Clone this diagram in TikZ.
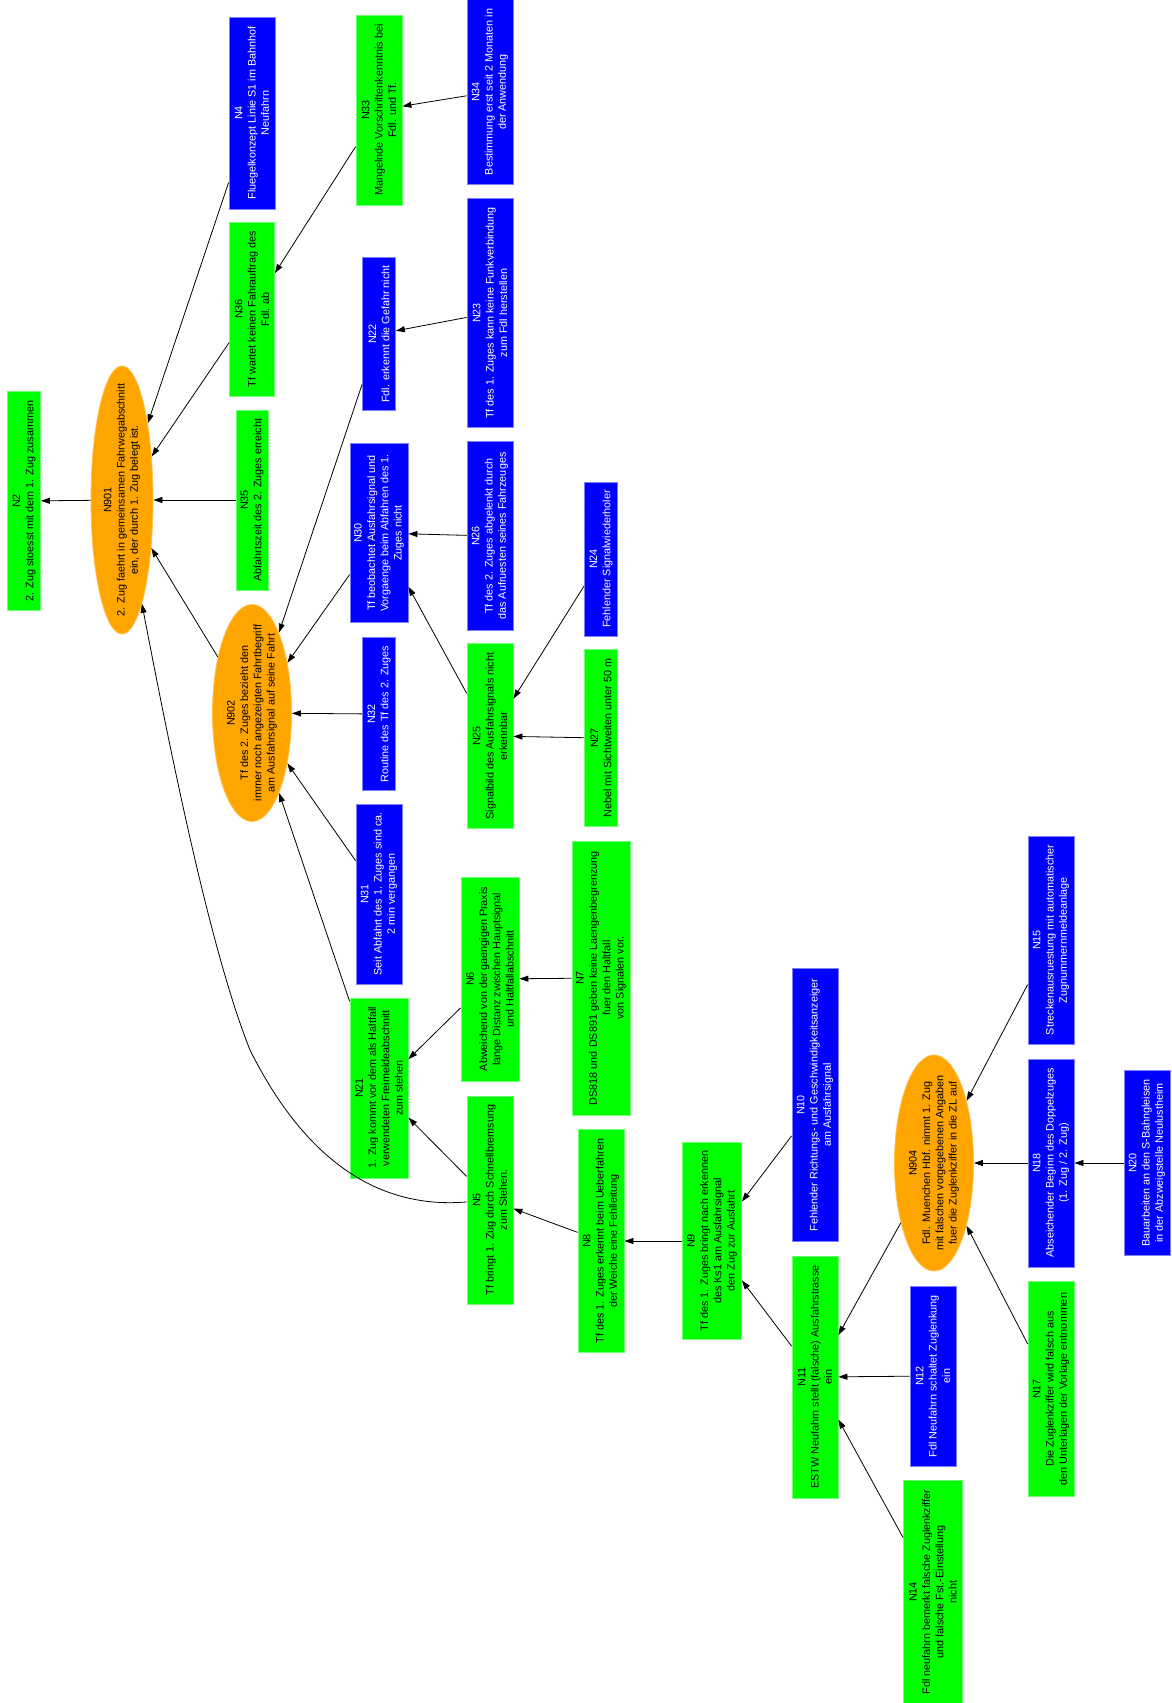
\documentclass[tikz,border=0pt]{standalone}
\usepackage{fontspec}
\setmainfont{Liberation Sans}
\usetikzlibrary{arrows.meta,shapes.geometric}

\definecolor{causegreen}{HTML}{00FF00}
\definecolor{causeblue}{HTML}{0000FF}
\definecolor{eventorange}{HTML}{FFA500}

\tikzset{
  factor/.style={rectangle, rotate=90, align=center, inner sep=2pt, line width=0.8pt,
    font=\fontsize{10.8}{13.3}\selectfont},
  greenfactor/.style={factor, fill=causegreen, draw=causegreen!55!white, text=black},
  bluefactor/.style={factor, fill=causeblue, draw=causeblue!50!white, text=white},
  event/.style={ellipse, rotate=90, align=center, inner xsep=-25pt, inner ysep=0pt,
    fill=eventorange, draw=eventorange!70!white, line width=0.8pt,
    font=\fontsize{10.8}{13.3}\selectfont},
  dims/.style 2 args={minimum width=#2pt, minimum height=#1pt},
  link/.style={-{Triangle[length=9pt,width=6pt]}, line width=0.8pt}
}

\begin{document}
\begin{tikzpicture}[x=1pt,y=-1pt]
  % page frame, one unit per pixel of the reference
  \useasboundingbox (0,0) rectangle (1172,1703);

  % top event and the first level of causes
  \node[greenfactor, dims={33}{219}] (N2) at (24,501) {N2\\2. Zug stoesst mit dem 1. Zug zusammen};
  \node[event, dims={62}{268}] (N901) at (122,500) {N901\\2. Zug faehrt in gemeinsamen Fahrwegabschnitt\\ein, der durch 1. Zug belegt ist.};
  \node[bluefactor, dims={46}{192}] (N4) at (252,113) {N4\\Fluegelkonzept Linie S1 im Bahnhof\\Neufahrn};
  \node[greenfactor, dims={45}{174}] (N36) at (252,309) {N36\\Tf wartet keinen Fahrauftrag des\\Fdl. ab};
  \node[greenfactor, dims={32}{180}] (N35) at (252,500) {N35\\Abfahrtszeit des 2. Zuges erreicht};
  \node[event, dims={79}{217}] (N902) at (252,713) {N902\\Tf des 2. Zuges bezieht den\\immer noch angezeigten Fahrtbegriff\\am Ausfahrsignal auf seine Fahrt};

  % causes of N36 and N902
  \node[greenfactor, dims={46}{190}] (N33) at (379,110) {N33\\Mangelnde Vorschriftenkenntnis bei\\Fdl. und Tf.};
  \node[bluefactor, dims={46}{185}] (N34) at (490,92) {N34\\Bestimmung erst seit 2 Monaten in\\der Anwendung};
  \node[bluefactor, dims={33}{153}] (N22) at (379,334) {N22\\Fdl. erkennt die Gefahr nicht};
  \node[bluefactor, dims={46}{229}] (N23) at (490,313) {N23\\Tf des 1. Zuges kann keine Funkverbindung\\zum Fdl herstellen};
  \node[bluefactor, dims={58}{179}] (N30) at (379,533) {N30\\Tf beobachtet Ausfahrsignal und\\Vorgaenge beim Abfahren des 1.\\Zuges nicht};
  \node[bluefactor, dims={46}{189}] (N26) at (490,536) {N26\\Tf des 2. Zuges abgelenkt durch\\das Aufruesten seines Fahrzeuges};
  \node[bluefactor, dims={33}{154}] (N24) at (601,559) {N24\\Fehlender Signalwiederholer};
  \node[bluefactor, dims={33}{153}] (N32) at (379,714) {N32\\Routine des Tf des 2. Zuges};
  \node[greenfactor, dims={46}{185}] (N25) at (490,736) {N25\\Signalbild des Ausfahrsignals nicht\\erkennbar};
  \node[greenfactor, dims={33}{177}] (N27) at (601,738) {N27\\Nebel mit Sichtweiten unter 50 m};
  \node[bluefactor, dims={46}{180}] (N31) at (379,894) {N31\\Seit Abfahrt des 1. Zuges sind ca.\\2 min vergangen};

  % chain of the first train
  \node[greenfactor, dims={58}{204}] (N6) at (490,979) {N6\\Abweichend von der gaengigen Praxis\\lange Distanz zwischen Hauptsignal\\und Haltfallabschnitt};
  \node[greenfactor, dims={58}{274}] (N7) at (601,978) {N7\\DS818 und DS891 geben keine Laengenbegrenzung\\fuer den Haltfall\\von Signalen vor.};
  \node[greenfactor, dims={58}{180}] (N21) at (379,1088) {N21\\1. Zug kommt vor dem als Haltfall\\verwendeten Freimeldeabschnitt\\zum stehen};
  \node[greenfactor, dims={46}{208}] (N5) at (490,1200) {N5\\Tf bringt 1. Zug durch Schnellbremsung\\zum Stehen.};
  \node[greenfactor, dims={46}{223}] (N8) at (601,1241) {N8\\Tf des 1. Zuges erkennt beim Ueberfahren\\der Weiche eine Fehlleitung};
  \node[greenfactor, dims={59}{197}] (N9) at (712,1241) {N9\\Tf des 1. Zuges bringt nach erkennen\\des Ks1 am Ausfahrsignal\\den Zug zur Ausfahrt};
  \node[bluefactor, dims={46}{273}] (N10) at (815,1105) {N10\\Fehlender Richtungs- und Geschwindigkeitsanzeiger\\am Ausfahrsignal};
  \node[greenfactor, dims={46}{242}] (N11) at (815,1377) {N11\\ESTW Neufahrn stellt (falsche) Ausfahrstrasse\\ein};
  \node[bluefactor, dims={46}{180}] (N12) at (933,1376) {N12\\Fdl Neufahrn schaltet Zuglenkung\\ein};
  \node[greenfactor, dims={59}{223}] (N14) at (933,1592) {N14\\Fdl neufahrn bemerkt falsche Zuglenkziffer\\und falsche Fst.-Einstellung\\nicht};
  \node[event, dims={79}{216}] (N904) at (934,1163) {N904\\Fdl. Muenchen Hbf. nimmt 1. Zug\\mit falschen vorgegebenen Angaben\\fuer die Zuglenkziffer in die ZL auf};
  \node[bluefactor, dims={46}{208}] (N15) at (1051,940) {N15\\Streckenausruestung mit automatischer\\Zugnummernmeldeanlage};
  \node[bluefactor, dims={46}{208}] (N18) at (1051,1163) {N18\\Abseichender Beginn des Doppelzuges\\(1. Zug / 2. Zug)};
  \node[bluefactor, dims={46}{185}] (N20) at (1147,1163) {N20\\Bauarbeiten an den S-Bahngleisen\\in der Abzweigstelle Neulustheim};
  \node[greenfactor, dims={46}{215}] (N17) at (1051,1389) {N17\\Die Zuglenkziffer wird falsch aus\\den Unterlagen der Vorlage entnommen};

  % connectors, each from cause to effect
  \draw[link] (N901) -- (N2);
  \draw[link] (N4) -- (N901);
  \draw[link] (N36) -- (N901);
  \draw[link] (N35) -- (N901);
  \draw[link] (N902) -- (N901);
  \draw[link] (N33) -- (N36);
  \draw[link] (N34) -- (N33);
  \draw[link] (N22) -- (N902);
  \draw[link] (N23) -- (N22);
  \draw[link] (N30) -- (N902);
  \draw[link] (N26) -- (N30);
  \draw[link] (N25) -- (N30);
  \draw[link] (N24) -- (N25);
  \draw[link] (N27) -- (N25);
  \draw[link] (N32) -- (N902);
  \draw[link] (N31) -- (N902);
  \draw[link] (N21) -- (N902);
  \draw[link] (N6) -- (N21);
  \draw[link] (N7) -- (N6);
  \draw[link] (N5) -- (N21);
  \draw[link] (N8) -- (N5);
  \draw[link] (N9) -- (N8);
  \draw[link] (N10) -- (N9);
  \draw[link] (N11) -- (N9);
  \draw[link] (N904) -- (N11);
  \draw[link] (N12) -- (N11);
  \draw[link] (N14) -- (N11);
  \draw[link] (N15) -- (N904);
  \draw[link] (N18) -- (N904);
  \draw[link] (N20) -- (N18);
  \draw[link] (N17) -- (N904);

  % long bend from N5 back to the top event
  \draw[link] (N5) .. controls (370,1210) and (300,1150) .. (250,1050)
    .. controls (210,950) and (170,750) .. (N901);
\end{tikzpicture}
\end{document}
